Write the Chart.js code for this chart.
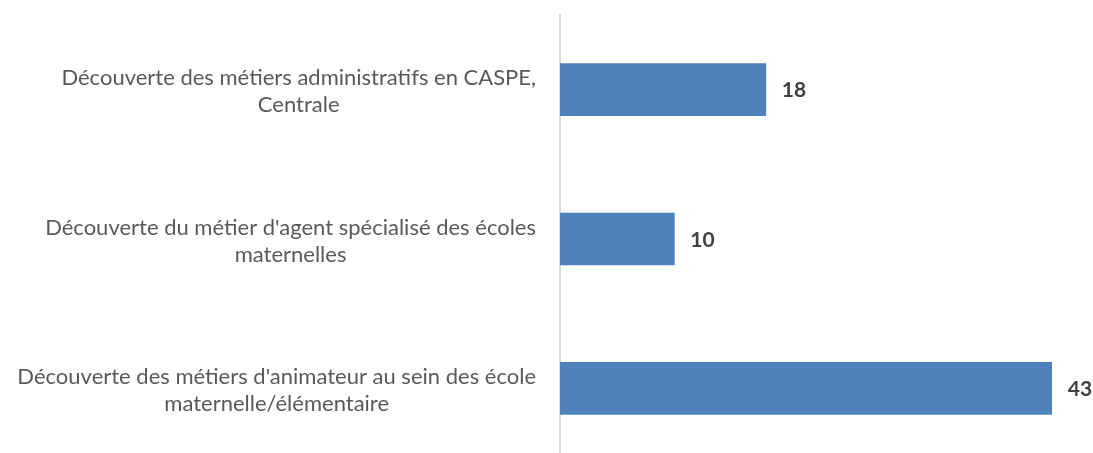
<!DOCTYPE html>
<html>
<head>
<meta charset="utf-8">
<script src="https://cdn.jsdelivr.net/npm/chart.js@4"></script>
<style>
  html, body { margin: 0; padding: 0; background: #fff; overflow: hidden; }
  .wrap { width: 1093px; height: 463px; position: relative; }
</style>
</head>
<body>
<div class="wrap"><canvas id="myBarChart"></canvas></div>
<script>
// categories, top to bottom (each one split in its two lines)
const categories = [
  ['Découverte des métiers administratifs en CASPE,', 'Centrale'],
  ["Découverte du métier d'agent spécialisé des écoles", 'maternelles'],
  ["Découverte des métiers d'animateur au sein des école", 'maternelle/élémentaire'],
];
const values = [18, 10, 43];

const FONT = 'Lato';

// category labels + value labels drawn next to the bars
const labelPlugin = {
  id: 'barLabels',
  afterDatasetsDraw(chart) {
    const ctx = chart.ctx;
    const yScale = chart.scales.y;
    const meta = chart.getDatasetMeta(0);
    ctx.save();
    ctx.font = '22px ' + FONT;
    ctx.fillStyle = '#595959';
    ctx.textAlign = 'center';
    ctx.textBaseline = 'middle';
    const lineHeight = 27;
    categories.forEach((lines, i) => {
      const y = yScale.getPixelForValue(i) + 2;
      const widest = Math.max(...lines.map((l) => ctx.measureText(l).width));
      const cx = yScale.right - 24 - widest / 2;
      lines.forEach((l, j) => {
        ctx.fillText(l, cx, y + (j - (lines.length - 1) / 2) * lineHeight);
      });
    });
    ctx.font = 'bold 21px ' + FONT;
    ctx.fillStyle = '#404040';
    ctx.textAlign = 'left';
    meta.data.forEach((bar, i) => {
      ctx.fillText(String(values[i]), bar.x + 16, bar.y + 1);
    });
    ctx.restore();
  },
};

function draw() {
  const ctx = document.getElementById('myBarChart').getContext('2d');
  new Chart(ctx, {
    type: 'bar',
    data: {
      labels: categories,
      datasets: [
        {
          data: values,
          backgroundColor: '#4f81bd',
          barThickness: 52,
        },
      ],
    },
    options: {
      indexAxis: 'y',
      responsive: true,
      maintainAspectRatio: false,
      animation: false,
      layout: { padding: { top: 15, right: 7, bottom: 0, left: 0 } },
      plugins: {
        legend: { display: false },
        tooltip: { enabled: false },
      },
      scales: {
        x: {
          display: false,
          min: 0,
          max: 46,
        },
        y: {
          grid: { display: false, drawTicks: false },
          border: { display: true, color: '#d9d9d9', width: 2 },
          ticks: { display: false },
          afterFit(scale) {
            scale.width = 560;
          },
        },
      },
    },
    plugins: [labelPlugin],
  });
}

if (document.fonts && document.fonts.load) {
  Promise.all([
    document.fonts.load('22px ' + FONT),
    document.fonts.load('bold 21px ' + FONT),
  ]).then(draw, draw);
} else {
  draw();
}
</script>
</body>
</html>
